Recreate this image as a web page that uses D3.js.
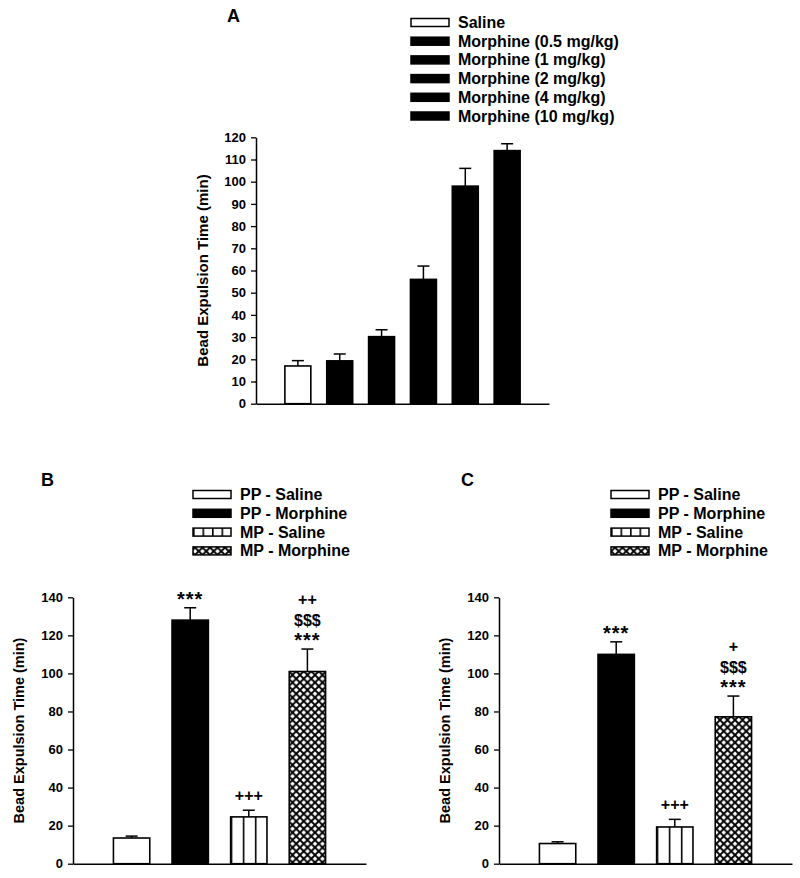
<!DOCTYPE html>
<html>
<head>
<meta charset="utf-8">
<script src="https://cdn.jsdelivr.net/npm/d3@7"></script>
<style>
  html, body { margin: 0; padding: 0; background: #fff; }
  svg { display: block; }
  text { font-family: "Liberation Sans", Arial, Helvetica, sans-serif; font-weight: bold; fill: #000; }
</style>
</head>
<body>
<svg id="chart" width="800" height="878"></svg>
<script>
// ---------------- DATA ----------------
const panelA_categories = ["Saline", "Morphine (0.5 mg/kg)", "Morphine (1 mg/kg)", "Morphine (2 mg/kg)", "Morphine (4 mg/kg)", "Morphine (10 mg/kg)"];
const panelA_values = [17, 19.3, 30.2, 56, 98, 114];
const panelA_errors = [2.4, 3.1, 3.1, 6, 8, 3.1];
const panelA_annotations = [[], [], [], [], [], []];
const panelA_ticks = [0, 10, 20, 30, 40, 50, 60, 70, 80, 90, 100, 110, 120];

const panelBC_categories = ["PP - Saline", "PP - Morphine", "MP - Saline", "MP - Morphine"];
const panelB_values = [13.5, 128, 24.6, 101];
const panelB_errors = [1, 6.5, 3.5, 11.8];
const panelB_annotations = [[], ["***"], ["+++"], ["++", "$$$", "***"]];
const panelC_values = [10.6, 110, 19.3, 77.2];
const panelC_errors = [0.9, 6.6, 4, 10.9];
const panelC_annotations = [[], ["***"], ["+++"], ["+", "$$$", "***"]];
const panelBC_ticks = [0, 20, 40, 60, 80, 100, 120, 140];

const yAxisTitle = "Bead Expulsion Time (min)";

// ---------------- STYLE ----------------
const fillFor = {
  "Saline": "white",
  "Morphine (0.5 mg/kg)": "black",
  "Morphine (1 mg/kg)": "black",
  "Morphine (2 mg/kg)": "black",
  "Morphine (4 mg/kg)": "black",
  "Morphine (10 mg/kg)": "black",
  "PP - Saline": "white",
  "PP - Morphine": "black",
  "MP - Saline": "stripes",
  "MP - Morphine": "hatch"
};

const svg = d3.select("#chart");
const defs = svg.append("defs");

function stripePattern(id, n) {
  const p = defs.append("pattern").attr("id", id)
    .attr("patternUnits", "objectBoundingBox")
    .attr("patternContentUnits", "userSpaceOnUse")
    .attr("width", 1 / n).attr("height", 1);
  p.append("rect").attr("width", 100).attr("height", 1000).attr("fill", "white");
  p.append("line").attr("x1", 0.8).attr("x2", 0.8).attr("y1", 0).attr("y2", 1000)
    .attr("stroke", "black").attr("stroke-width", 1.6);
}
stripePattern("stripesBar", 3);
stripePattern("stripesLegend", 4);

const hp = defs.append("pattern").attr("id", "hatch")
  .attr("patternUnits", "userSpaceOnUse").attr("width", 7.5).attr("height", 7.5);
hp.append("rect").attr("width", 7.5).attr("height", 7.5).attr("fill", "white");
hp.append("path").attr("d", "M-1,-1L8.5,8.5M8.5,-1L-1,8.5")
  .attr("stroke", "black").attr("stroke-width", 1.9).attr("fill", "none");

function fillUrl(cat, legend) {
  const f = fillFor[cat];
  if (f === "stripes") return legend ? "url(#stripesLegend)" : "url(#stripesBar)";
  if (f === "hatch") return "url(#hatch)";
  return f;
}

// ---------------- PANEL ----------------
function drawPanel(cfg) {
  const g = svg.append("g");
  const y = d3.scaleLinear().domain(cfg.domain).range([cfg.yBottom, cfg.yTop]);
  const x = d3.scalePoint().domain(cfg.categories).range([cfg.xLeft, cfg.xRight]).padding(1);
  const bw = x.step() * 0.62;

  // y axis
  const yAxis = d3.axisLeft(y).tickValues(cfg.ticks).tickSize(5).tickSizeOuter(0).tickPadding(5);
  const ya = g.append("g").attr("transform", `translate(${cfg.xLeft},0)`).call(yAxis);
  ya.select(".domain").attr("stroke", "black").attr("stroke-width", 1.5);
  ya.selectAll(".tick line").attr("stroke", "black").attr("stroke-width", 1.3);
  ya.selectAll(".tick text").style("font-size", "13px").style("font-weight", "bold").attr("fill", "black")
    .style("font-family", '"Liberation Sans", Arial, sans-serif');

  // x axis (plain baseline)
  const xAxis = d3.axisBottom(x).tickSize(0).tickFormat("").tickSizeOuter(0);
  const xa = g.append("g").attr("transform", `translate(0,${cfg.yBottom})`).call(xAxis);
  xa.select(".domain").attr("stroke", "black").attr("stroke-width", 1.5);

  // error bars
  const data = cfg.categories.map((c, i) => ({ c, v: cfg.values[i], e: cfg.errors[i], ann: cfg.annotations[i] }));
  const eb = g.append("g").selectAll("g").data(data).join("g");
  eb.append("line")
    .attr("x1", d => x(d.c)).attr("x2", d => x(d.c))
    .attr("y1", d => y(d.v)).attr("y2", d => y(d.v + d.e))
    .attr("stroke", "black").attr("stroke-width", 1.5);
  eb.append("line")
    .attr("x1", d => x(d.c) - 6).attr("x2", d => x(d.c) + 6)
    .attr("y1", d => y(d.v + d.e)).attr("y2", d => y(d.v + d.e))
    .attr("stroke", "black").attr("stroke-width", 1.5);

  // bars
  g.append("g").selectAll("rect").data(data).join("rect")
    .attr("x", d => x(d.c) - bw / 2)
    .attr("width", bw)
    .attr("y", d => y(d.v))
    .attr("height", d => y(0) - y(d.v))
    .attr("fill", d => fillUrl(d.c, false))
    .attr("stroke", "black").attr("stroke-width", 1.6);

  // annotations (stacked from bottom up above the error bar)
  data.forEach(d => {
    const lines = d.ann.slice().reverse();
    let base = y(d.v + d.e);
    lines.forEach((t, k) => {
      const isStar = t.startsWith("*");
      if (k === 0) base -= isStar ? 2 : 9;
      else base -= 21;
      g.append("text")
        .attr("x", x(d.c)).attr("y", base)
        .attr("text-anchor", "middle")
        .style("font-size", isStar ? "20px" : "16px")
        .style("letter-spacing", isStar ? "1px" : "0px")
        .text(t);
    });
  });

  // y title
  g.append("text")
    .attr("transform", `translate(${cfg.titleX},${(cfg.yTop + cfg.yBottom) / 2}) rotate(-90)`)
    .attr("text-anchor", "middle").attr("dominant-baseline", "central")
    .style("font-size", cfg.titleSize + "px")
    .text(yAxisTitle);

  // panel letter
  g.append("text").attr("x", cfg.letterX).attr("y", cfg.letterY)
    .style("font-size", "18px").text(cfg.letter);

  // legend
  const lg = g.append("g");
  cfg.categories.forEach((c, i) => {
    const cy = cfg.legendY + i * cfg.legendStep;
    lg.append("rect").attr("x", cfg.legendX).attr("y", cy - 4).attr("width", 38).attr("height", 8)
      .attr("fill", fillUrl(c, true)).attr("stroke", "black").attr("stroke-width", 1.5);
    lg.append("text").attr("x", cfg.legendX + 47).attr("y", cy).attr("dominant-baseline", "central")
      .style("font-size", "16px").text(c);
  });
}

drawPanel({
  letter: "A", letterX: 227, letterY: 22,
  categories: panelA_categories, values: panelA_values, errors: panelA_errors, annotations: panelA_annotations,
  ticks: panelA_ticks, domain: [0, 120],
  xLeft: 256, xRight: 549, yTop: 137.3, yBottom: 403.7,
  titleX: 202, titleSize: 15,
  legendX: 411, legendY: 22.5, legendStep: 18.7
});

drawPanel({
  letter: "B", letterX: 41, letterY: 486,
  categories: panelBC_categories, values: panelB_values, errors: panelB_errors, annotations: panelB_annotations,
  ticks: panelBC_ticks, domain: [0, 140],
  xLeft: 73, xRight: 366, yTop: 597.3, yBottom: 863.7,
  titleX: 19, titleSize: 14.5,
  legendX: 193, legendY: 494.5, legendStep: 18.8
});

drawPanel({
  letter: "C", letterX: 461, letterY: 486,
  categories: panelBC_categories, values: panelC_values, errors: panelC_errors, annotations: panelC_annotations,
  ticks: panelBC_ticks, domain: [0, 140],
  xLeft: 499, xRight: 792, yTop: 597.3, yBottom: 863.7,
  titleX: 445, titleSize: 14.5,
  legendX: 611, legendY: 494.5, legendStep: 18.8
});
</script>
</body>
</html>
